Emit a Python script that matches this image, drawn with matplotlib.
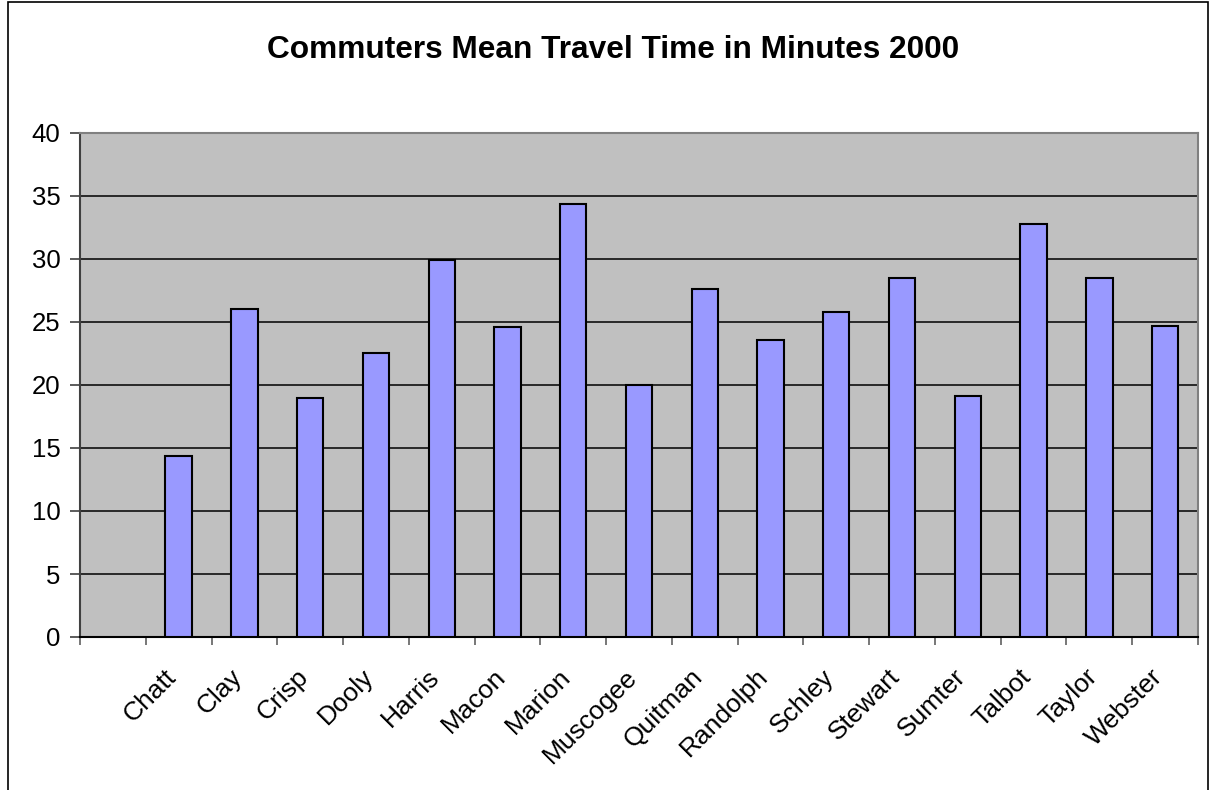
import matplotlib.pyplot as plt
from matplotlib.patches import Rectangle
from matplotlib.transforms import ScaledTranslation

# first category slot is blank in the original chart
counties = ["", "Chatt", "Clay", "Crisp", "Dooly", "Harris", "Macon", "Marion",
            "Muscogee", "Quitman", "Randolph", "Schley", "Stewart", "Sumter",
            "Talbot", "Taylor", "Webster"]
travel_time = [0, 14.4, 26.0, 19.0, 22.5, 29.9, 24.6, 34.4,
               20.0, 27.6, 23.6, 25.8, 28.5, 19.1, 32.8, 28.5, 24.7]
y_ticks = [0, 5, 10, 15, 20, 25, 30, 35, 40]

plt.rcParams["font.family"] = ["Liberation Sans", "DejaVu Sans"]

fig = plt.figure(figsize=(12.11, 7.90), dpi=100)
ax = fig.add_axes([80 / 1211, 1 - 637 / 790, 1118 / 1211, 504 / 790])
ax.set_facecolor("#C0C0C0")

x = list(range(len(counties)))
ax.bar(x[1:], travel_time[1:], width=0.4, color="#9999FF",
       edgecolor="black", linewidth=1.5, zorder=3)

ax.set_xlim(-0.5, len(counties) - 0.5)
ax.set_ylim(0, 40)
ax.set_yticks(y_ticks)
ax.tick_params(axis="y", labelsize=18.5, length=7, width=1.2, color="#404040", pad=7)
ax.yaxis.grid(True, color="black", linewidth=1.1, zorder=1)

# category ticks sit on the slot boundaries, labels on the slot centres
ax.set_xticks([i - 0.5 for i in x] + [len(counties) - 0.5])
ax.tick_params(axis="x", which="major", length=6, width=1.2, color="#606060",
               labelbottom=False)
ax.set_xticks(x, minor=True)
ax.set_xticklabels(counties, minor=True, rotation=45, ha="right", va="center",
                   rotation_mode="anchor", fontsize=19)
ax.tick_params(axis="x", which="minor", length=0, pad=26)
shift = ScaledTranslation(-6 / 100, 0, fig.dpi_scale_trans)
for lbl in ax.get_xticklabels(minor=True):
    lbl.set_transform(lbl.get_transform() + shift)

for side in ["top", "right"]:
    ax.spines[side].set_color("#808080")
    ax.spines[side].set_linewidth(1.5)
ax.spines["left"].set_color("#404040")
ax.spines["left"].set_linewidth(1.5)
ax.spines["bottom"].set_color("black")
ax.spines["bottom"].set_linewidth(1.5)

fig.text(613 / 1211, 1 - 50 / 790, "Commuters Mean Travel Time in Minutes 2000",
         ha="center", va="center", fontsize=22.8, fontweight="bold")

# outer chart border
fig.patches.append(Rectangle((8 / 1211, -0.05), 1200 / 1211, 1.05 - 2 / 790,
                             transform=fig.transFigure, fill=False,
                             edgecolor="black", linewidth=1.2))

fig.savefig("out.png", dpi=100)
plt.close(fig)
